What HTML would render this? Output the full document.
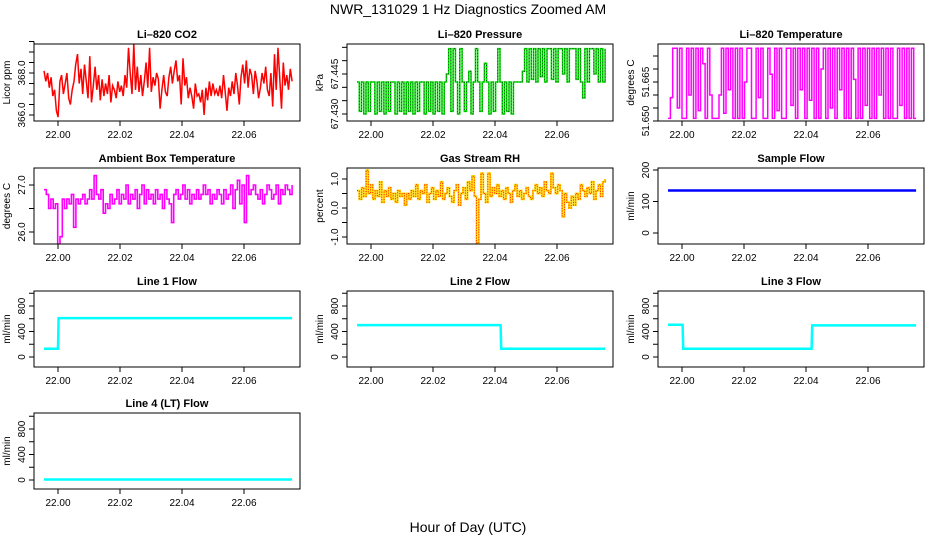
<!DOCTYPE html>
<html><head><meta charset="utf-8"><style>
html,body{margin:0;padding:0;background:#fff;}
svg{display:block;font-family:"Liberation Sans",Arial,sans-serif;}
</style></head><body>
<svg id="chart" width="936" height="540" viewBox="0 0 936 540" xmlns="http://www.w3.org/2000/svg">
<text x="468" y="14" text-anchor="middle" font-size="14">NWR_131029  1 Hz Diagnostics Zoomed AM</text>
<text x="468" y="532" text-anchor="middle" font-size="14">Hour of Day (UTC)</text>
</svg>
<script>
const xTicks=[22.00,22.02,22.04,22.06];
const xTickLabels=["22.00","22.02","22.04","22.06"];
const tStart=21.9955, tEnd=22.0755;
const co2Values=[368.1,367.6,368.0,367.3,367.8,366.9,367.2,366.2,365.9,367.6,367.9,367.0,367.5,368.0,366.8,366.5,367.2,367.6,368.4,368.9,367.5,368.2,367.0,368.4,367.6,366.8,368.8,366.6,367.4,368.3,367.2,367.9,366.7,367.7,366.9,367.5,367.0,367.9,366.6,367.4,367.2,366.8,367.6,367.1,367.4,366.9,367.9,367.3,369.2,368.0,367.0,369.4,367.2,368.3,367.1,367.9,366.9,367.6,368.5,367.3,369.2,367.1,367.8,367.4,368.0,367.7,366.3,367.2,367.9,367.1,366.9,367.8,368.3,367.5,368.1,368.6,367.6,367.9,366.5,368.7,367.4,367.8,366.8,367.3,366.9,366.3,367.5,366.9,367.0,366.6,367.2,366.0,367.3,366.7,367.6,366.9,367.5,367.0,367.2,366.9,367.4,366.8,367.9,367.1,366.2,367.3,366.9,367.6,367.0,368.0,367.4,366.5,367.8,368.4,367.5,368.6,367.3,368.2,367.9,367.0,368.1,367.6,366.8,367.3,368.0,367.5,368.3,367.2,366.9,368.0,366.4,368.9,367.2,369.2,367.8,366.3,368.5,367.4,367.9,367.2,368.2,367.6];
const pressureValues=[67.442,67.431,67.442,67.430,67.442,67.431,67.442,67.442,67.430,67.442,67.431,67.442,67.430,67.442,67.431,67.442,67.442,67.430,67.442,67.431,67.442,67.430,67.442,67.431,67.442,67.430,67.442,67.431,67.442,67.442,67.430,67.442,67.431,67.442,67.430,67.442,67.431,67.442,67.430,67.442,67.445,67.4545,67.431,67.4545,67.442,67.430,67.4545,67.442,67.431,67.442,67.446,67.430,67.442,67.4545,67.442,67.431,67.442,67.449,67.442,67.430,67.442,67.431,67.442,67.4545,67.442,67.430,67.442,67.431,67.442,67.430,67.442,67.442,67.442,67.442,67.446,67.4545,67.442,67.4545,67.443,67.4545,67.442,67.4545,67.444,67.4545,67.442,67.4545,67.4545,67.443,67.4545,67.442,67.4545,67.4545,67.445,67.4545,67.442,67.4545,67.4545,67.4545,67.443,67.4545,67.442,67.436,67.4545,67.442,67.4545,67.4545,67.445,67.4545,67.442,67.4545,67.442,67.4545];
const tempValues=[51.651,51.659,51.678,51.678,51.655,51.678,51.651,51.651,51.678,51.660,51.678,51.651,51.678,51.654,51.678,51.672,51.651,51.678,51.660,51.651,51.651,51.651,51.660,51.678,51.653,51.678,51.662,51.678,51.651,51.678,51.651,51.678,51.651,51.665,51.678,51.678,51.651,51.651,51.678,51.659,51.678,51.651,51.651,51.678,51.668,51.651,51.678,51.654,51.678,51.651,51.651,51.678,51.678,51.656,51.678,51.651,51.678,51.662,51.678,51.651,51.678,51.658,51.678,51.651,51.678,51.651,51.670,51.678,51.651,51.678,51.655,51.678,51.651,51.678,51.662,51.678,51.651,51.678,51.651,51.678,51.666,51.651,51.678,51.651,51.678,51.656,51.678,51.651,51.678,51.651,51.678,51.660,51.678,51.651,51.678,51.651,51.678,51.651,51.651,51.678,51.656,51.678,51.651,51.678,51.651,51.678,51.651,51.651];
const ambientValues=[26.9,26.8,26.5,26.7,26.5,26.6,25.6,25.9,26.7,26.5,26.7,26.6,26.8,26.1,26.7,26.6,26.7,26.8,26.6,26.7,26.9,26.7,27.2,26.8,26.7,26.9,26.4,26.6,26.5,26.8,26.6,26.7,26.9,26.6,26.8,26.7,27.0,26.6,26.8,26.7,26.9,26.5,26.8,27.0,26.6,26.9,26.7,26.8,26.6,26.9,26.7,26.8,26.5,26.9,26.7,26.6,26.2,26.8,26.9,26.7,26.8,27.0,26.7,26.9,26.6,26.8,26.7,26.9,26.7,26.8,27.0,26.8,26.9,26.6,26.8,26.7,26.9,26.8,26.6,26.9,26.7,26.8,27.0,26.5,26.9,27.1,26.6,27.0,26.2,27.2,26.8,26.9,27.0,26.8,26.7,26.9,26.6,26.8,27.0,26.9,26.7,26.8,27.0,26.6,26.9,26.8,27.0,26.9,26.8,27.0];
const rhValues=[0.6,0.3,0.7,0.4,1.3,0.5,0.8,0.3,0.6,0.4,0.9,0.2,0.6,0.4,0.7,0.3,0.5,0.2,0.6,0.4,0.5,0.1,0.5,0.3,0.6,0.4,0.8,0.3,0.6,0.5,0.8,0.2,0.5,0.7,0.3,0.6,0.4,0.9,0.3,0.5,0.7,0.4,0.2,0.6,0.8,0.1,0.5,0.7,0.3,0.9,0.6,1.1,0.4,-1.2,0.3,1.2,0.5,0.2,1.2,0.4,0.7,0.5,0.8,0.4,0.6,0.3,0.7,0.5,0.2,0.6,0.8,0.4,0.6,0.3,0.5,0.7,0.4,0.3,0.6,0.8,0.5,0.7,0.4,0.9,0.6,0.5,1.2,0.7,0.5,0.8,0.6,-0.3,0.5,0.2,0.0,0.4,0.1,0.5,0.3,0.8,0.6,0.4,0.7,0.5,0.9,0.3,0.6,0.8,0.4,0.9,1.0];
const sampleTimes=[21.9955,22.0755];
const sampleValues=[135,135];
const line1Times=[21.9955,22.0000,22.0002,22.0755];
const line1Values=[130,130,610,610];
const line2Times=[21.9955,22.0418,22.0420,22.0755];
const line2Values=[500,500,130,130];
const line3Times=[21.9955,22.0002,22.0004,22.0418,22.0420,22.0755];
const line3Values=[505,505,130,130,495,495];
const line4Times=[21.9955,22.0755];
const line4Values=[8,8];

const svg=document.getElementById('chart');
const NS='http://www.w3.org/2000/svg';
const COLS=[34,347,658], ROWS=[[44,121],[168,244],[291,367],[413,489]], W=266;
let clipN=0;
function mk(tag,attrs,parent){const e=document.createElementNS(NS,tag);for(const k in attrs)e.setAttribute(k,attrs[k]);(parent||svg).appendChild(e);return e;}
function evenTimes(n){const a=[];for(let i=0;i<n;i++)a.push(tStart+(tEnd-tStart)*i/(n-1));return a;}

function panel(p){
  const L=COLS[p.col],T=ROWS[p.row][0],B=ROWS[p.row][1];
  const g=mk('g',{});
  
  
  const xs=h=>L+24+(h-22)*3100;
  const ys=v=>p.y0+(v-p.v0)*(p.y1-p.y0)/(p.v1-p.v0);
  const cid='clip'+(clipN++);
  const cp=mk('clipPath',{id:cid},g);
  mk('rect',{x:L,y:T,width:W,height:B-T},cp);
  const tt=mk('text',{x:L+W/2,y:T-6,'text-anchor':'middle','font-size':11,'font-weight':'bold'},g);
  tt.textContent=p.title;
  
  
  const xa=mk('line',{x1:xs(xTicks[0]),x2:xs(xTicks[xTicks.length-1]),y1:B,y2:B,stroke:'#000'},g);
  
  
  xTicks.forEach((t,i)=>{
    mk('line',{x1:xs(t),x2:xs(t),y1:B,y2:B+5,stroke:'#000'},g);
    const lb=mk('text',{x:xs(t),y:B+17,'text-anchor':'middle','font-size':10},g);
    lb.textContent=xTickLabels[i];
    
    
  });
  const ya=mk('line',{x1:L,x2:L,y1:ys(p.yticks[0]),y2:ys(p.yticks[p.yticks.length-1]),stroke:'#000'},g);
  
  
  p.yticks.forEach(t=>mk('line',{x1:L-5,x2:L,y1:ys(t),y2:ys(t),stroke:'#000'},g));
  p.ylabels.forEach((t,i)=>{
    const y=ys(t);
    const lb=mk('text',{x:L-9,y:y,'text-anchor':'middle','font-size':10,transform:`rotate(-90 ${L-9} ${y})`},g);
    lb.textContent=p.ylabelText[i];
    
    
  });
  const yc=(T+B)/2;
  const yt=mk('text',{x:L-24,y:yc,'text-anchor':'middle','font-size':10,transform:`rotate(-90 ${L-24} ${yc})`},g);
  yt.textContent=p.ylab;
  
  
  const times=p.times||evenTimes(p.values.length);
  let d='';
  p.values.forEach((v,i)=>{
    const x=xs(times[i]).toFixed(1),y=ys(v).toFixed(1);
    if(i===0)d+=`M${x},${y}`;
    else if(p.step){d+=`H${x}V${y}`;}
    else d+=`L${x},${y}`;
  });
  const sg=mk('g',{'clip-path':`url(#${cid})`},g);
  p.strokes.forEach(s=>{
    const path=mk('path',{d:d,fill:'none',stroke:s.c,'stroke-width':s.w,'stroke-dasharray':s.dash||'none'},sg);
    
    
  });
  const box=mk('rect',{x:L,y:T,width:W,height:B-T,fill:'none',stroke:'#000','stroke-width':1},g);
  
  
}
const flowTicks=[0,200,400,600,800,1000];
panel({name:'co2-panel',title:'Li\u2013820 CO2',col:0,row:0,v0:366,y0:115,v1:368,y1:73,yticks:[366,366.5,367,367.5,368,368.5,369,369.5],ylabels:[366,368],ylabelText:['366.0','368.0'],ylab:'Licor ppm',values:co2Values,strokes:[{c:'#ff0000',w:1.5}]});
panel({name:'pressure-panel',title:'Li\u2013820 Pressure',col:1,row:0,v0:67.430,y0:114,v1:67.445,y1:74,yticks:[67.430,67.435,67.440,67.445,67.450,67.455],ylabels:[67.430,67.445],ylabelText:['67.430','67.445'],ylab:'kPa',values:pressureValues,step:true,strokes:[{c:'#00e000',w:1.6},{c:'#222',w:0.8,dash:'1,2'}]});
panel({name:'temperature-panel',title:'Li\u2013820 Temperature',col:2,row:0,v0:51.650,y0:121,v1:51.665,y1:82,yticks:[51.650,51.655,51.660,51.665,51.670,51.675],ylabels:[51.650,51.665],ylabelText:['51.650','51.665'],ylab:'degrees C',values:tempValues,step:true,strokes:[{c:'#ff00ff',w:1.5}]});
panel({name:'ambient-temp-panel',title:'Ambient Box Temperature',col:0,row:1,v0:26,y0:232,v1:27,y1:185,yticks:[26,26.5,27],ylabels:[26,27],ylabelText:['26.0','27.0'],ylab:'degrees C',values:ambientValues,step:true,strokes:[{c:'#ff00ff',w:1.6}]});
panel({name:'rh-panel',title:'Gas Stream RH',col:1,row:1,v0:0,y0:208,v1:1,y1:179,yticks:[-1,-0.5,0,0.5,1],ylabels:[-1,0,1],ylabelText:['-1.0','0.0','1.0'],ylab:'percent',values:rhValues,step:true,strokes:[{c:'#ffd700',w:2},{c:'#ff2000',w:1,dash:'1,1.5'}]});
panel({name:'sample-flow-panel',title:'Sample Flow',col:2,row:1,v0:0,y0:233,v1:200,y1:170,yticks:[0,100,200],ylabels:[0,100,200],ylabelText:['0','100','200'],ylab:'ml/min',times:sampleTimes,values:sampleValues,strokes:[{c:'#0000ff',w:2.5}]});
panel({name:'line1-flow-panel',title:'Line 1 Flow',col:0,row:2,v0:0,y0:357,v1:800,y1:306,yticks:flowTicks,ylabels:[0,400,800],ylabelText:['0','400','800'],ylab:'ml/min',times:line1Times,values:line1Values,strokes:[{c:'#00ffff',w:2.5}]});
panel({name:'line2-flow-panel',title:'Line 2 Flow',col:1,row:2,v0:0,y0:357,v1:800,y1:306,yticks:flowTicks,ylabels:[0,400,800],ylabelText:['0','400','800'],ylab:'ml/min',times:line2Times,values:line2Values,strokes:[{c:'#00ffff',w:2.5}]});
panel({name:'line3-flow-panel',title:'Line 3 Flow',col:2,row:2,v0:0,y0:357,v1:800,y1:306,yticks:flowTicks,ylabels:[0,400,800],ylabelText:['0','400','800'],ylab:'ml/min',times:line3Times,values:line3Values,strokes:[{c:'#00ffff',w:2.5}]});
panel({name:'line4-flow-panel',title:'Line 4 (LT) Flow',col:0,row:3,v0:0,y0:480,v1:800,y1:429,yticks:flowTicks,ylabels:[0,400,800],ylabelText:['0','400','800'],ylab:'ml/min',times:line4Times,values:line4Values,strokes:[{c:'#00ffff',w:2.5}]});
</script>
</body></html>
